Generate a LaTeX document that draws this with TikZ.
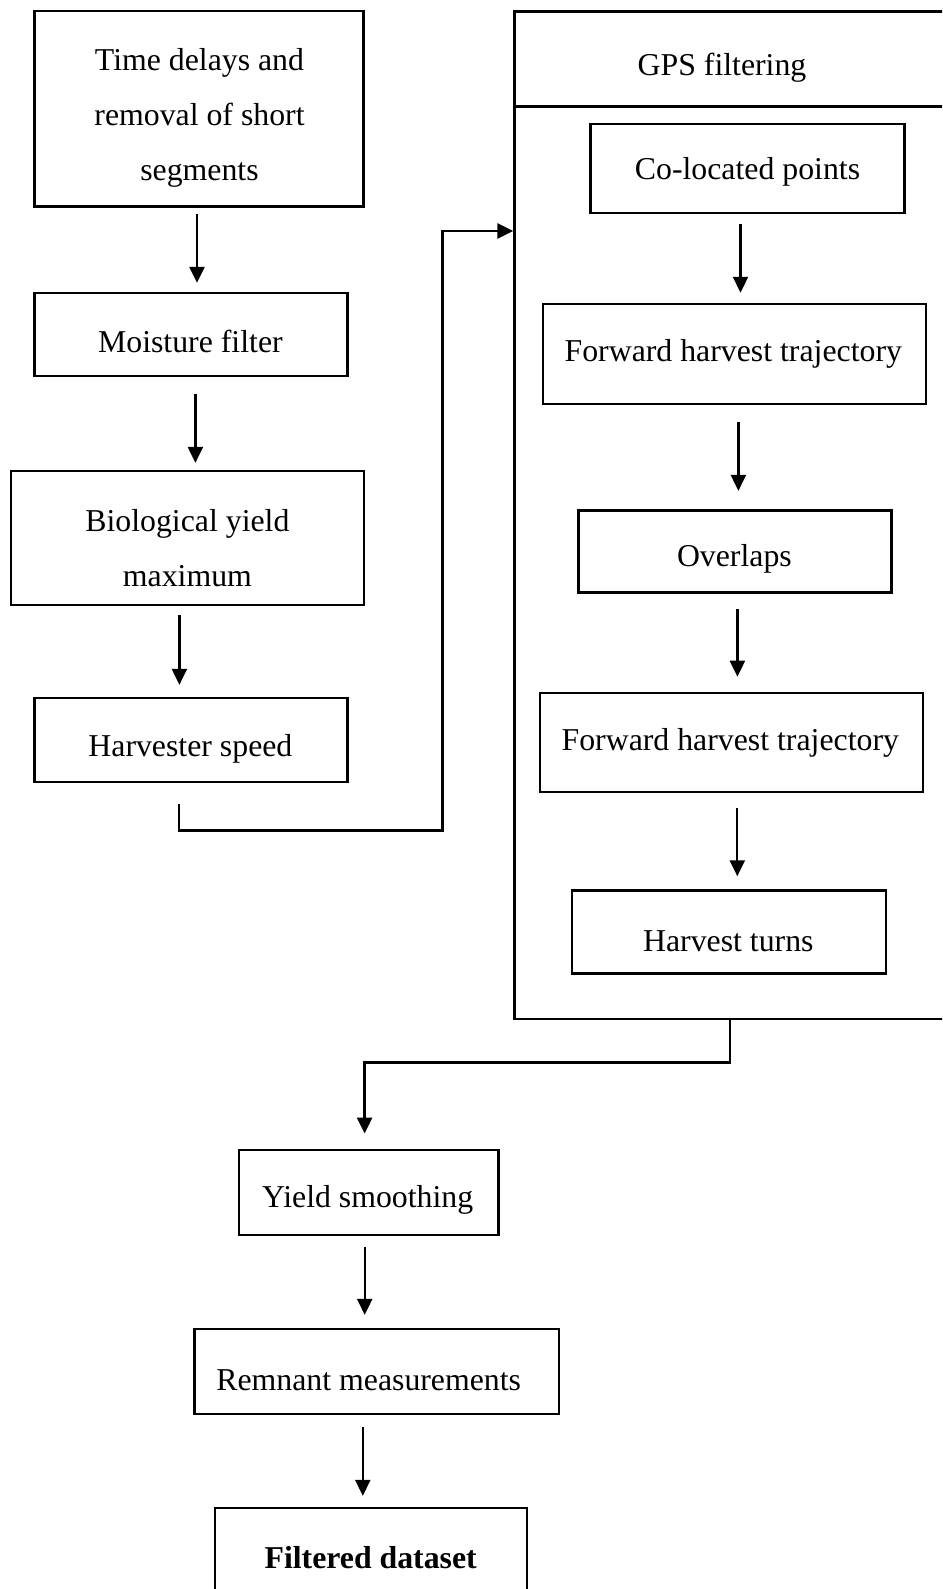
\documentclass[tikz,border=0pt]{standalone}
\usepackage{fontspec}
\setmainfont{Liberation Serif}
\usetikzlibrary{arrows.meta,calc}
\tikzset{
  box/.style={draw, line width=2.3pt, inner sep=0pt},
  lbl/.style={font=\fontsize{31.8}{55.2}\selectfont, inner sep=0pt, align=center, yshift=-3pt},
  conn/.style={line width=2.3pt},
  arr/.style={line width=2.3pt, -{Triangle[length=16pt,width=15pt]}},
}
\begin{document}
\begin{tikzpicture}[x=1pt,y=-1pt]
\useasboundingbox (0,0) rectangle (942,1589);
\fill[white] (0,0) rectangle (942,1589);
\clip (0,0) rectangle (942,1589);
% left column
\node[box, minimum width=329.2pt, minimum height=195.5pt] (b1) at (199,108.9) {};
\node[box, minimum width=313pt, minimum height=83pt] (b2) at (190.9,334.5) {};
\node[box, minimum width=352.5pt, minimum height=134pt] (b3) at (187.4,538) {};
\node[box, minimum width=313pt, minimum height=84pt] (b4) at (190.9,740) {};
\node[lbl] (t1) at (199.5,115) {Time delays and\\removal of short\\segments};
\node[lbl] (t2) at (190.4,338.3) {Moisture filter};
\node[lbl] (t3) at (187.4,545) {Biological yield\\maximum};
\node[lbl] (t4) at (190.4,745.5) {Harvester speed};
% GPS box
\node[box, minimum width=465pt, minimum height=1007.5pt] (gps) at (747,515.25) {};
\coordinate (div) at (514.5,106.5);
\draw[conn] (gps.west |- div) -- (gps.east |- div);
\node[lbl] (tg) at (722,64.5) {GPS filtering};
\node[box, minimum width=314pt, minimum height=89pt] (c1) at (747.5,168.2) {};
\node[box, minimum width=382.8pt, minimum height=100.2pt] (c2) at (734.4,354) {};
\node[box, minimum width=313pt, minimum height=82pt] (c3) at (734.9,551.5) {};
\node[box, minimum width=382.8pt, minimum height=99.3pt] (c4) at (731.3,742.5) {};
\node[box, minimum width=314pt, minimum height=83pt] (c5) at (729.3,931.9) {};
\node[lbl] (tc1) at (747.5,169.2) {Co-located points};
\node[lbl] (tc2) at (733.3,350.5) {Forward harvest trajectory};
\node[lbl] (tc3) at (734.4,556) {Overlaps};
\node[lbl] (tc4) at (730.3,739.4) {Forward harvest trajectory};
\node[lbl] (tc5) at (728.3,938) {Harvest turns};
% bottom column
\node[box, minimum width=259.3pt, minimum height=85pt] (y1) at (368.7,1192.2) {};
\node[box, minimum width=364.6pt, minimum height=85pt] (y2) at (376.8,1371.5) {};
\node[box, minimum width=312pt, minimum height=92pt] (y3) at (370.7,1554) {};
\node[lbl] (ty1) at (367.7,1197.2) {Yield smoothing};
\node[lbl] (ty2) at (368.7,1377.5) {Remnant measurements};
\node[lbl, font=\fontsize{31.8}{55.2}\selectfont\bfseries] (ty3) at (370.7,1554.8) {Filtered dataset};
% arrows left
\draw[arr] ($(b1.south)+(-2,6.4)$) -- ($(b1.south |- b2.north)+(-2,-9)$);
\draw[arr] ($(b2.south)+(4.5,17)$) -- ($(b2.south |- b3.north)+(4.5,-7)$);
\draw[arr] ($(b3.south)+(-8,9)$) -- ($(b3.south |- b4.north)+(-8,-12)$);
% elbow to GPS box
\coordinate (s4) at ($(b4.south)+(-11.6,21)$);
\coordinate (e1) at (442.6,830.6);
\coordinate (ein) at (514.5,231);
\draw[arr] (s4) |- (e1) -- (e1 |- ein) -- (gps.west |- ein);
% arrows inside GPS box
\draw[arr] ($(c1.south)+(-7,10)$) -- ($(c1.south |- c2.north)+(-7,-10)$);
\draw[arr] ($(c2.south)+(4,17)$) -- ($(c2.south |- c3.north)+(4,-18.5)$);
\draw[arr] ($(c3.south)+(2.5,15.5)$) -- ($(c3.south |- c4.north)+(2.5,-15)$);
\draw[arr] ($(c4.south)+(6,15)$) -- ($(c4.south |- c5.north)+(6,-13)$);
% GPS box to yield smoothing
\coordinate (g1) at (730.3,1062.5);
\coordinate (g2) at (364.6,1062.5);
\draw[arr, shorten >=15pt] (gps.south -| g1) -- (g1) -- (g2) -- (g2 |- y1.north);
% bottom arrows
\draw[arr] ($(y1.south)+(-4,11)$) -- ($(y1.south |- y2.north)+(-4,-13)$);
\draw[arr] ($(y2.south)+(-14,12)$) -- ($(y2.south |- y3.north)+(-14,-11)$);
\end{tikzpicture}
\end{document}
